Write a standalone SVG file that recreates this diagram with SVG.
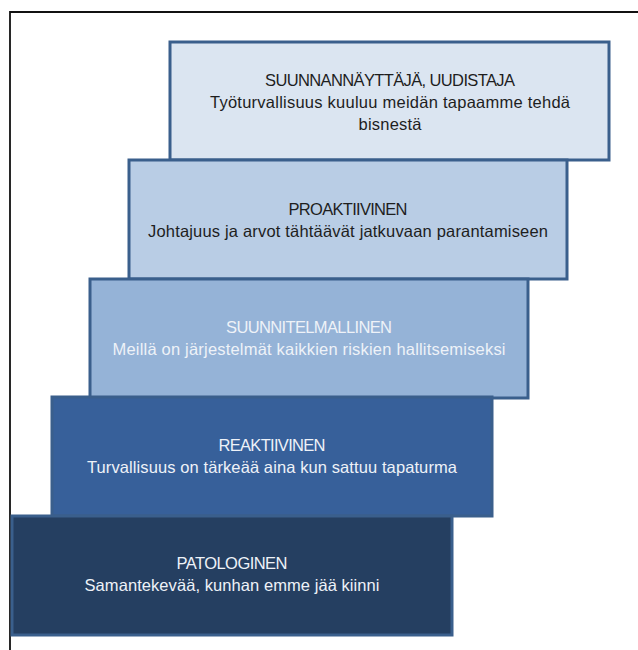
<svg xmlns="http://www.w3.org/2000/svg" width="638" height="650" viewBox="0 0 638 650">
<style>
.box{stroke:#3a5f8c;stroke-width:3}
.t{font-family:"Liberation Sans",Arial,sans-serif;font-size:16.5px;text-anchor:middle}
.dark{fill:#1e1e1e}
.light{fill:#eef2f8}
</style>
<rect width="638" height="650" fill="#ffffff"/>
<g id="frame">
<path d="M10,650 V12 H638" fill="none" stroke="#111" stroke-width="1.8"/>
</g>
<g id="level5">
<rect class="box" x="170" y="42" width="439" height="118" fill="#dbe5f1"/>
<text class="t dark" x="390" y="86" textLength="250">SUUNNANNÄYTTÄJÄ, UUDISTAJA</text>
<text class="t dark" x="390" y="108" textLength="360">Työturvallisuus kuuluu meidän tapaamme tehdä</text>
<text class="t dark" x="390" y="130" textLength="63">bisnestä</text>
</g>
<g id="level4">
<rect class="box" x="129" y="160" width="438" height="119" fill="#b9cde5"/>
<text class="t dark" x="348" y="215" textLength="119">PROAKTIIVINEN</text>
<text class="t dark" x="348" y="237" textLength="400">Johtajuus ja arvot tähtäävät jatkuvaan parantamiseen</text>
</g>
<g id="level3">
<rect class="box" x="90" y="279" width="438" height="119" fill="#95b3d7"/>
<text class="t light" x="309" y="333" textLength="166">SUUNNITELMALLINEN</text>
<text class="t light" x="309" y="355" textLength="393">Meillä on järjestelmät kaikkien riskien hallitsemiseksi</text>
</g>
<g id="level2">
<rect class="box" x="52" y="397" width="440" height="119" fill="#37609a"/>
<text class="t light" x="272" y="451" textLength="107">REAKTIIVINEN</text>
<text class="t light" x="272" y="473" textLength="370">Turvallisuus on tärkeää aina kun sattuu tapaturma</text>
</g>
<g id="level1">
<rect class="box" x="12" y="516" width="440" height="119" fill="#253f61" stroke="#3b6294"/>
<text class="t light" x="232" y="569" textLength="111">PATOLOGINEN</text>
<text class="t light" x="232" y="591" textLength="295">Samantekevää, kunhan emme jää kiinni</text>
</g>
<g id="connectors"></g>
</svg>
